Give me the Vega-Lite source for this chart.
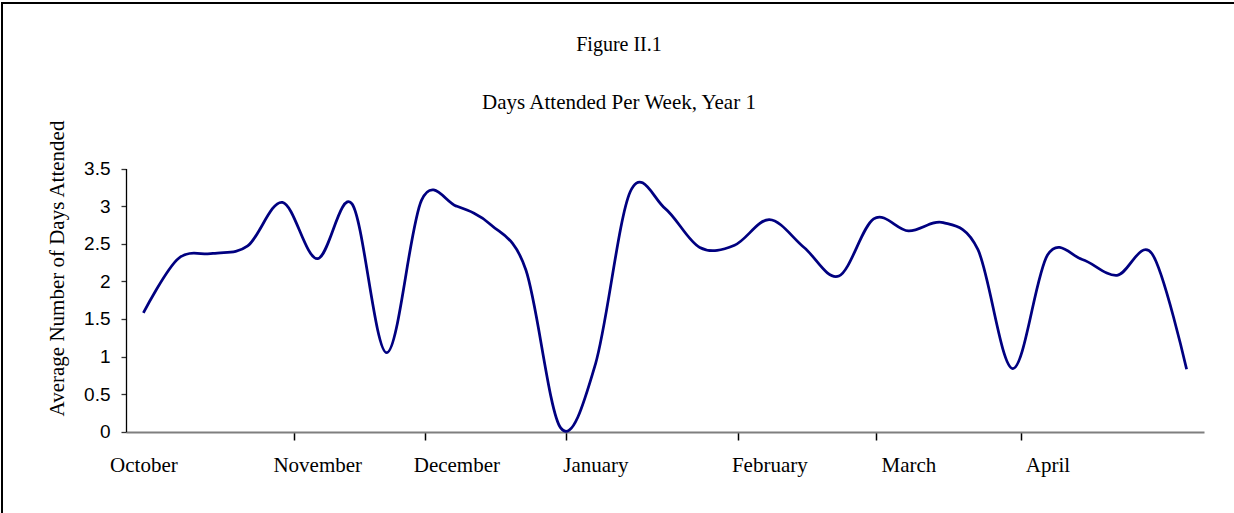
{
  "$schema": "https://vega.github.io/schema/vega-lite/v6.json",
  "autosize": "none",
  "padding": {"left": 2, "top": 3, "right": 0, "bottom": 0},
  "width": 1240,
  "height": 515,
  "background": "white",
  "config": {
    "view": {"stroke": "black", "strokeWidth": 2, "fill": "white"}
  },
  "title": {
    "text": "Figure II.1",
    "subtitle": "Days Attended Per Week, Year 1",
    "anchor": "middle",
    "dx": -3,
    "frame": "group",
    "font": "Liberation Serif",
    "fontSize": 20,
    "fontWeight": "normal",
    "color": "black",
    "subtitleFont": "Liberation Serif",
    "subtitleFontSize": 21,
    "subtitleColor": "black",
    "subtitlePadding": 37,
    "offset": -110
  },
  "data": {
    "values": [
      {"week": 0, "days": 1.58},
      {"week": 1, "days": 2.30},
      {"week": 2, "days": 2.37},
      {"week": 3, "days": 2.47},
      {"week": 4, "days": 3.05},
      {"week": 5, "days": 2.30},
      {"week": 6, "days": 3.03},
      {"week": 7, "days": 1.05},
      {"week": 8, "days": 3.08},
      {"week": 9, "days": 3.00},
      {"week": 10, "days": 2.75},
      {"week": 11, "days": 2.15},
      {"week": 12, "days": 0.05},
      {"week": 13, "days": 0.90},
      {"week": 14, "days": 3.19},
      {"week": 15, "days": 2.97},
      {"week": 16, "days": 2.45},
      {"week": 17, "days": 2.48},
      {"week": 18, "days": 2.82},
      {"week": 19, "days": 2.45},
      {"week": 20, "days": 2.07},
      {"week": 21, "days": 2.83},
      {"week": 22, "days": 2.67},
      {"week": 23, "days": 2.78},
      {"week": 24, "days": 2.42},
      {"week": 25, "days": 0.84},
      {"week": 26, "days": 2.35},
      {"week": 27, "days": 2.29},
      {"week": 28, "days": 2.08},
      {"week": 29, "days": 2.37},
      {"week": 30, "days": 0.83}
    ]
  },
  "mark": {"type": "line", "interpolate": "cardinal", "tension": 0, "color": "#000080", "strokeWidth": 2.75},
  "encoding": {
    "x": {
      "field": "week",
      "type": "quantitative",
      "scale": {"domain": [-0.5, 30.5], "range": [124, 1202], "nice": false, "zero": false},
      "axis": {
        "title": null,
        "orient": "bottom",
        "offset": -86,
        "grid": false,
        "values": [0, 4.33, 5, 8.11, 9, 12.14, 13, 17.1, 18, 21.08, 22, 25.23, 26],
        "labelExpr": "datum.value === 0 ? 'October' : datum.value === 5 ? 'November' : datum.value === 9 ? 'December' : datum.value === 13 ? 'January' : datum.value === 18 ? 'February' : datum.value === 22 ? 'March' : datum.value === 26 ? 'April' : ''",
        "labelFont": "Liberation Serif",
        "labelFontSize": 21,
        "labelColor": "black",
        "labelBaseline": "alphabetic",
        "labelPadding": 31,
        "labelOverlap": false,
        "labelFlush": false,
        "labelBound": false,
        "domainColor": "#7f7f7f",
        "domainWidth": 2,
        "tickColor": "black",
        "tickWidth": 1.5,
        "tickSize": 8,
        "tickOpacity": {"condition": {"test": "datum.value % 1 !== 0", "value": 1}, "value": 0}
      }
    },
    "y": {
      "field": "days",
      "type": "quantitative",
      "scale": {"domain": [0, 3.5], "range": [428.7, 165.5], "nice": false, "zero": false},
      "axis": {
        "title": "Average Number of Days Attended",
        "orient": "left",
        "offset": -124,
        "grid": false,
        "values": [0, 0.5, 1, 1.5, 2, 2.5, 3, 3.5],
        "format": "~g",
        "labelFont": "Liberation Sans",
        "labelFontSize": 19,
        "labelColor": "black",
        "labelPadding": 11,
        "domainColor": "black",
        "domainWidth": 1.3,
        "tickColor": "#333333",
        "tickWidth": 1.3,
        "tickSize": 5,
        "titleFont": "Liberation Serif",
        "titleFontSize": 21,
        "titleFontWeight": "normal",
        "titleColor": "black",
        "titleAngle": 270,
        "titleAlign": "center",
        "titleBaseline": "alphabetic",
        "titleX": -63,
        "titleY": 265
      }
    }
  }
}
